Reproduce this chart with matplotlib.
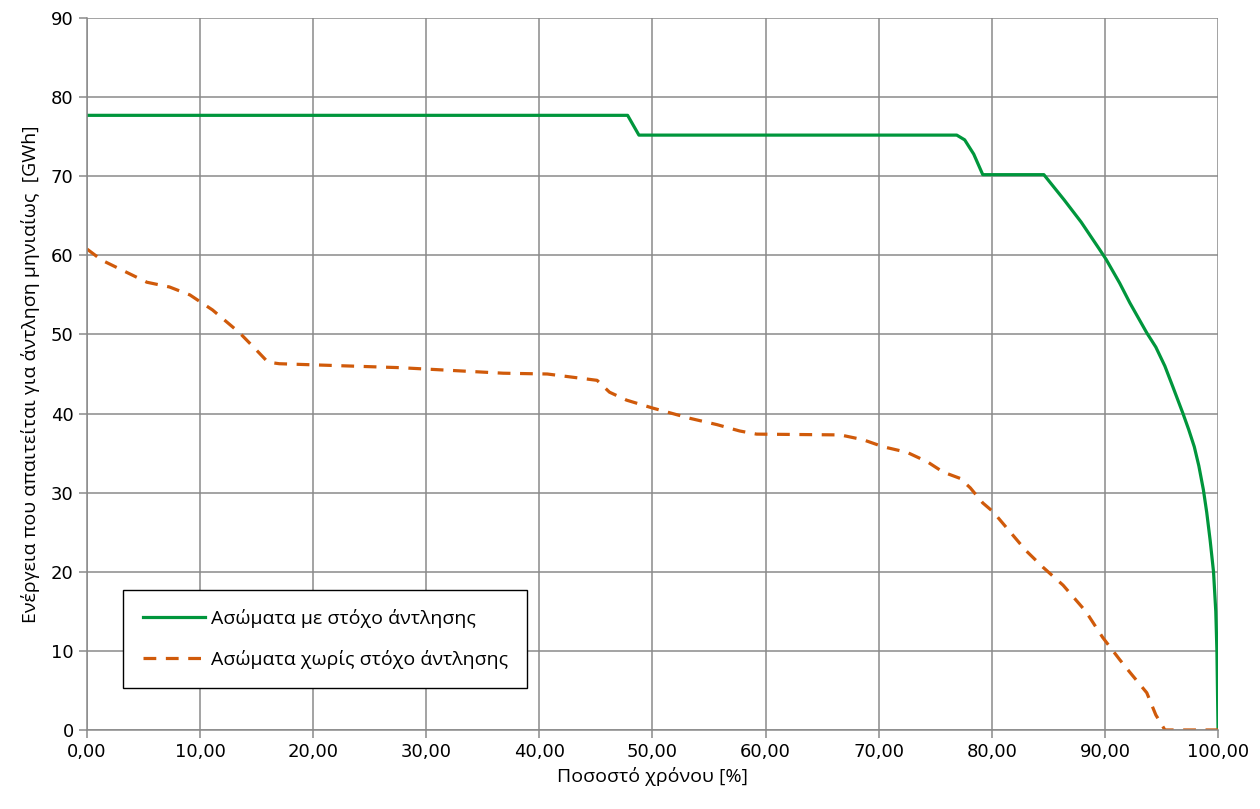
import numpy as np
from matplotlib import pyplot as plt
from matplotlib.ticker import FuncFormatter, MultipleLocator

# %%
# Ασώματα με στόχο άντλησης
x_green = [0, 47.8, 48.8, 76.9, 77.6, 78.4, 79.2, 84.6, 86.4, 87.9, 89.5, 90.1,
           91.3, 92.2, 93.7, 94.5, 95.3, 96.0, 96.9, 97.4, 97.9, 98.3, 98.7,
           99.0, 99.3, 99.6, 99.8, 99.9, 100]
y_green = [77.7, 77.7, 75.2, 75.2, 74.6, 72.8, 70.2, 70.2, 67.0, 64.2, 60.8, 59.5,
           56.5, 54.0, 50.2, 48.4, 46.0, 43.4, 40.0, 38.0, 35.8, 33.4, 30.4,
           27.5, 24.0, 20.0, 15.0, 10.0, 0]

# Ασώματα χωρίς στόχο άντλησης
x_orange = [0, 1.3, 5.3, 7.3, 9.1, 11.1, 13.5, 15.0, 16.0, 17.0, 27.7, 36.8, 40.7,
            45.1, 46.2, 47.7, 50.0, 53.3, 55.7, 57.7, 59.2, 66.6, 68.6, 70.4,
            72.5, 74.3, 75.7, 77.2, 78.1, 79.2, 80.1, 83.0, 84.5, 86.3, 88.3,
            89.8, 91.3, 92.2, 93.7, 94.5, 95.3, 100]
y_orange = [60.8, 59.4, 56.6, 56.0, 55.0, 53.1, 50.2, 48.0, 46.5, 46.3, 45.8, 45.1, 45.0,
            44.2, 42.7, 41.7, 40.7, 39.4, 38.6, 37.8, 37.4, 37.3, 36.7, 35.8,
            35.1, 33.9, 32.6, 31.8, 30.6, 28.7, 27.6, 22.7, 20.6, 18.3, 15.0,
            11.7, 8.9, 7.3, 4.7, 1.9, 0, 0]

label_green = "Ασώματα με στόχο άντλησης"
label_orange = "Ασώματα χωρίς στόχο άντλησης"

# %%
text_font = ["Open Sans", "DejaVu Sans"]
grid_color = "#8a8a8a"

fig = plt.figure(figsize=(12.6, 8.09), dpi=100)
ax = fig.add_axes([0.069, 0.0977, 0.8977, 0.88])

ax.plot(x_green, y_green, color="#00963C", lw=2.3, label=label_green)
ax.plot(x_orange, y_orange, color="#D05A0A", lw=2.3, dashes=(4, 3), label=label_orange)

ax.set_xlim(0, 100)
ax.set_ylim(0, 90)
ax.xaxis.set_major_locator(MultipleLocator(10))
ax.yaxis.set_major_locator(MultipleLocator(10))
ax.xaxis.set_major_formatter(FuncFormatter(lambda v, p: f"{v:.2f}".replace(".", ",")))

ax.grid(True, color=grid_color, lw=1.1)
ax.set_axisbelow(True)
for side in ["top", "right"]:
    ax.spines[side].set_visible(False)
for side in ["left", "bottom"]:
    ax.spines[side].set_color(grid_color)
    ax.spines[side].set_linewidth(1.1)
ax.tick_params(colors=grid_color, width=1.1, length=6, labelsize=13, labelcolor="black")

ax.set_xlabel("Ποσοστό χρόνου [%]", family=text_font, fontsize=14, labelpad=4)
ax.set_ylabel("Ενέργεια που απαιτείται για άντληση μηνιαίως  [GWh]", family=text_font,
              fontsize=14, labelpad=8)

leg = ax.legend(loc="lower left", bbox_to_anchor=(0.032, 0.059), borderaxespad=0,
                prop={"family": text_font, "size": 14},
                fancybox=False, framealpha=1, edgecolor="black", handlelength=3.2,
                borderpad=1.0, labelspacing=1.1, handletextpad=0.3)
leg.get_frame().set_linewidth(1.0)

fig.savefig("out.png")
